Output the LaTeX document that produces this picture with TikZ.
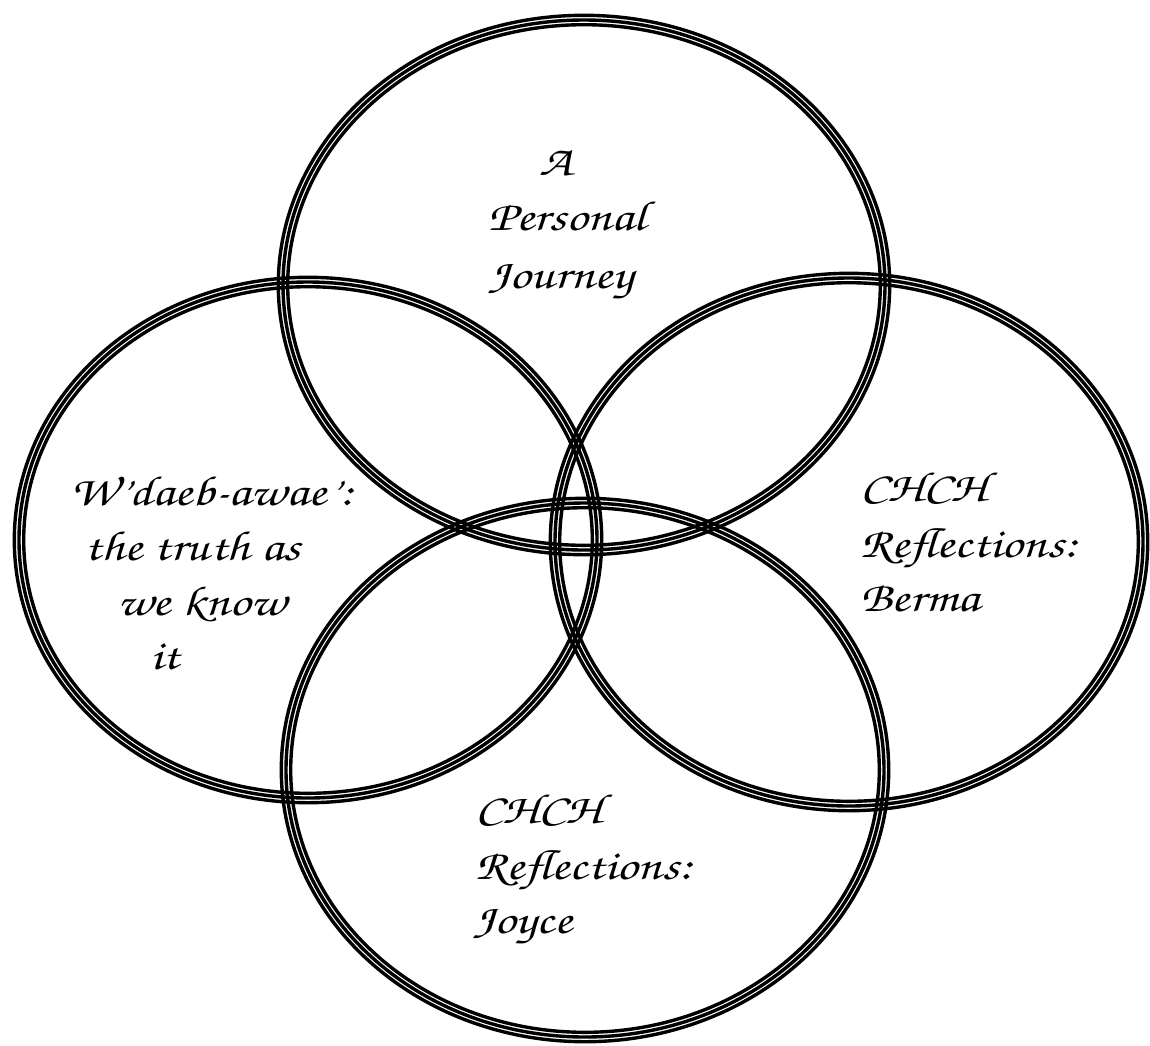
\documentclass[tikz,border=0pt]{standalone}
\usepackage{graphicx}
\usepackage[T1,TU]{fontenc}
\newcommand\calw[1]{\scalebox{1.25}[1]{#1}}
\begin{document}
\begin{tikzpicture}[x=1pt,y=-1pt,
  ringline/.style={draw=black,line width=3.4pt},
  lab/.style={font=\fontencoding{T1}\fontfamily{pzc}\fontseries{m}\fontshape{it}\fontsize{42}{48}\selectfont,inner sep=0pt,anchor=base west}]
\useasboundingbox[fill=white] (0,0) rectangle (1150,1045);
\newcommand\ring[4]{\foreach \d in {-4.7,0,4.7}{\draw[ringline] (#1,#2) ellipse [x radius={(#3+\d)*1pt}, y radius={(#4+\d)*1pt}];}}
% top
\ring{584}{285}{301}{265}
% left
\ring{308}{540}{289}{258}
% right
\ring{849}{542}{294}{264}
% bottom
\ring{585}{770}{299}{267}
% top text
\node[lab] (t1) at (539,175) {\calw{A}};
\node[lab] (t2) at (488,230) {\calw{Personal}};
\node[lab] (t3) at (488,288) {\calw{Journey}};
% left text
\node[lab] (l1) at (70,505) {\calw{W'daeb-awae':}};
\node[lab] (l2) at (84,560) {\calw{the truth as}};
\node[lab] (l3) at (117,615) {\calw{we know}};
\node[lab] (l4) at (150,669) {\calw{it}};
% right text
\node[lab] (r1) at (860,501) {\calw{CHCH}};
\node[lab] (r2) at (860,557) {\calw{Reflections:}};
\node[lab] (r3) at (860,611) {\calw{Berma}};
% bottom text
\node[lab] (b1) at (475,823) {\calw{CHCH}};
\node[lab] (b2) at (475,879) {\calw{Reflections:}};
\node[lab] (b3) at (473,933) {\calw{Joyce}};
\end{tikzpicture}
\end{document}
